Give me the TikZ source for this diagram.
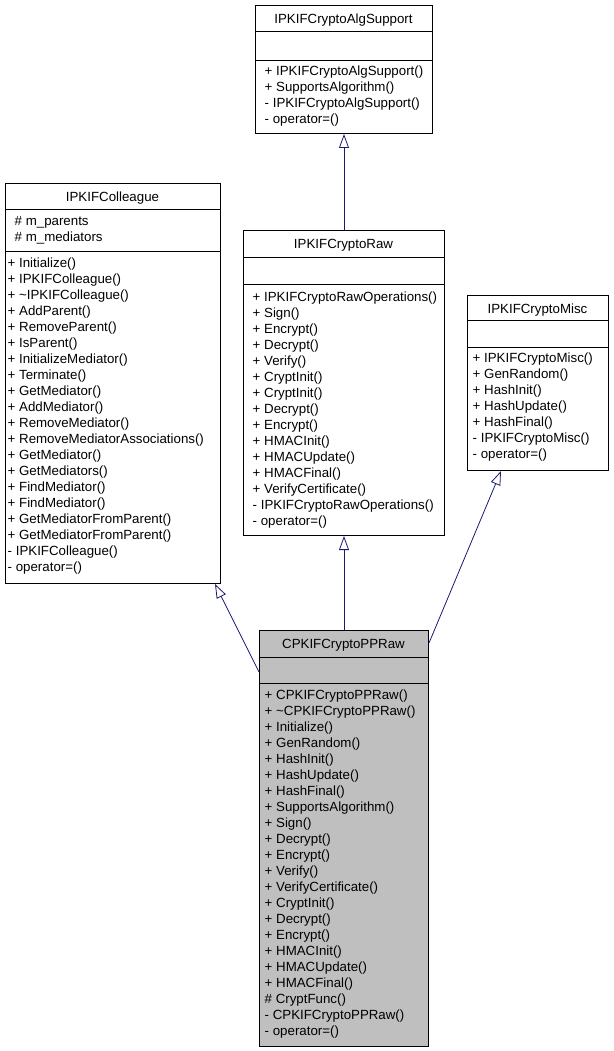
\documentclass[tikz,border=0pt]{standalone}
\usepackage{fontspec}
\setmainfont{Liberation Sans}
\usetikzlibrary{arrows.meta,calc}
\definecolor{edgeblue}{HTML}{191970}
\definecolor{ppgray}{HTML}{BFBFBF}
\begin{document}
\begin{tikzpicture}[x=1pt,y=-1pt,
  classbox/.style={draw=black, line width=1pt, rectangle, inner sep=0pt, anchor=north west, fill=white},
  sepline/.style={draw=black, line width=1pt},
  member/.style={anchor=base west, inner sep=0pt, font=\fontsize{13.3}{16}\selectfont},
  classtitle/.style={anchor=base, inner sep=0pt, font=\fontsize{13.3}{16}\selectfont},
  inherit/.style={draw=edgeblue, line width=0.8pt, -{Triangle[open, length=14pt, width=10pt, line width=0.8pt]}}
]
\useasboundingbox (0,0) rectangle (613,1051);

% IPKIFCryptoAlgSupport
\node[classbox, minimum width=177pt, minimum height=128pt] (alg) at (255,5) {};
\draw[sepline] (alg.west |- 0,32) -- (alg.east |- 0,32);
\draw[sepline] (alg.west |- 0,61) -- (alg.east |- 0,61);
\node[classtitle] (alg-t) at (343.5,23.3) {IPKIFCryptoAlgSupport};
\foreach \t [count=\i from 0] in {+ IPKIFCryptoAlgSupport(), + SupportsAlgorithm(), - IPKIFCryptoAlgSupport(), - operator=()}
  \node[member] (alg-m\i) at (264.5,75.3+16*\i) {\t};

% IPKIFColleague
\node[classbox, minimum width=215pt, minimum height=400pt] (coll) at (5,183) {};
\draw[sepline] (coll.west |- 0,209) -- (coll.east |- 0,209);
\draw[sepline] (coll.west |- 0,251) -- (coll.east |- 0,251);
\node[classtitle] (coll-t) at (112.5,201) {IPKIFColleague};
\node[member] (coll-a0) at (14.5,225.7) {\# m\_parents};
\node[member] (coll-a1) at (14.5,241.7) {\# m\_mediators};
\foreach \t [count=\i from 0] in {+ Initialize(), + IPKIFColleague(), + \textasciitilde{}IPKIFColleague(), + AddParent(), + RemoveParent(), + IsParent(), + InitializeMediator(), + Terminate(), + GetMediator(), + AddMediator(), + RemoveMediator(), + RemoveMediatorAssociations(), + GetMediator(), + GetMediators(), + FindMediator(), + FindMediator(), + GetMediatorFromParent(), + GetMediatorFromParent(), - IPKIFColleague(), - operator=()}
  \node[member] (coll-m\i) at (7.5,267.3+16*\i) {\t};

% IPKIFCryptoRaw
\node[classbox, minimum width=201pt, minimum height=305pt] (raw) at (243,230) {};
\draw[sepline] (raw.west |- 0,257) -- (raw.east |- 0,257);
\draw[sepline] (raw.west |- 0,284) -- (raw.east |- 0,284);
\node[classtitle] (raw-t) at (343.5,248) {IPKIFCryptoRaw};
\foreach \t [count=\i from 0] in {+ IPKIFCryptoRawOperations(), + Sign(), + Encrypt(), + Decrypt(), + Verify(), + CryptInit(), + CryptInit(), + Decrypt(), + Encrypt(), + HMACInit(), + HMACUpdate(), + HMACFinal(), + VerifyCertificate(), - IPKIFCryptoRawOperations(), - operator=()}
  \node[member] (raw-m\i) at (252.5,301+16*\i) {\t};

% IPKIFCryptoMisc
\node[classbox, minimum width=141pt, minimum height=175pt] (misc) at (467,295) {};
\draw[sepline] (misc.west |- 0,320) -- (misc.east |- 0,320);
\draw[sepline] (misc.west |- 0,347) -- (misc.east |- 0,347);
\node[classtitle] (misc-t) at (537.5,313) {IPKIFCryptoMisc};
\foreach \t [count=\i from 0] in {+ IPKIFCryptoMisc(), + GenRandom(), + HashInit(), + HashUpdate(), + HashFinal(), - IPKIFCryptoMisc(), - operator=()}
  \node[member] (misc-m\i) at (472.5,362.5+16*\i) {\t};

% CPKIFCryptoPPRaw
\node[classbox, fill=ppgray, minimum width=169pt, minimum height=416pt] (pp) at (259,630) {};
\draw[sepline] (pp.west |- 0,657) -- (pp.east |- 0,657);
\draw[sepline] (pp.west |- 0,683) -- (pp.east |- 0,683);
\node[classtitle] (pp-t) at (343.5,648) {CPKIFCryptoPPRaw};
\foreach \t [count=\i from 0] in {+ CPKIFCryptoPPRaw(), + \textasciitilde{}CPKIFCryptoPPRaw(), + Initialize(), + GenRandom(), + HashInit(), + HashUpdate(), + HashFinal(), + SupportsAlgorithm(), + Sign(), + Decrypt(), + Encrypt(), + Verify(), + VerifyCertificate(), + CryptInit(), + Decrypt(), + Encrypt(), + HMACInit(), + HMACUpdate(), + HMACFinal(), \# CryptFunc(), - CPKIFCryptoPPRaw(), - operator=()}
  \node[member] (pp-m\i) at (264.5,699+16*\i) {\t};

% inheritance connectors
\draw[inherit] (raw.north) -- (alg.south);
\draw[inherit] (pp.north) -- (raw.south);
\draw[inherit] ($(pp.north west)+(0,42)$) -- ($(coll.south east)+(-6,0)$);
\draw[inherit] ($(pp.north east)+(0,13)$) -- ($(misc.south west)+(34,0)$);
\end{tikzpicture}
\end{document}
